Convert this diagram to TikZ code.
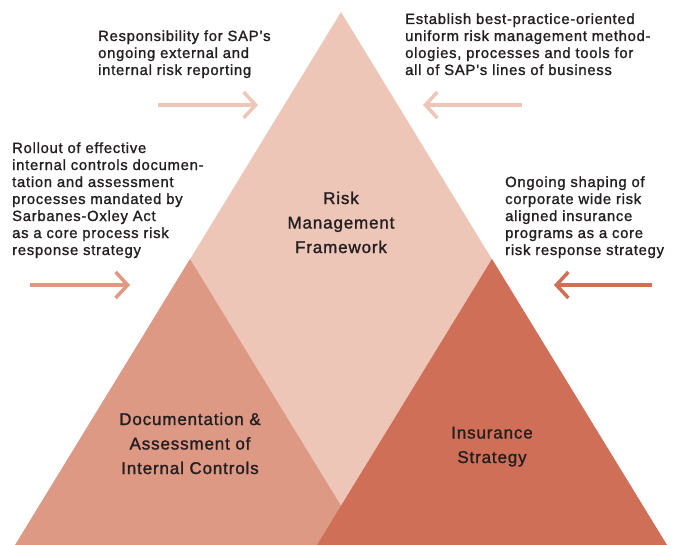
\documentclass[tikz,border=0pt]{standalone}
\usepackage{fontspec}
\setmainfont[LetterSpace=5,FakeBold=1.3]{Liberation Sans}
\usetikzlibrary{arrows.meta,positioning,calc}
\definecolor{rmfpink}{HTML}{EEC6B8}
\definecolor{docrose}{HTML}{DE9985}
\definecolor{insred}{HTML}{CF6F58}
\definecolor{ink}{HTML}{231F20}
\tikzset{
    every picture/.style={line join=miter},
    note/.style={anchor=base west,align=left,inner sep=0pt,
      font=\fontsize{14.8}{17}\selectfont,text=ink},
    tritext/.style={anchor=base,align=center,inner sep=0pt,
      font=\fontsize{17}{24.5}\selectfont,text=ink},
    pointer/.style={-{Straight Barb[length=12pt,width=26pt]},line width=3.5pt}
}

\begin{document}
\begin{tikzpicture}[x=1pt,y=-1pt]
  \useasboundingbox (0,0) rectangle (679,545);
  % corners of the three triangles
  \coordinate (top) at (341,12);
  \coordinate (apexL) at (190,259);
  \coordinate (apexR) at (492,259);
  \fill[rmfpink] (top) -- (666.5,545) -- (15.5,545) -- cycle;
  \fill[docrose] (apexL) -- (365,545) -- (15,545) -- cycle;
  \fill[insred] (apexR) -- (667,545) -- (317,545) -- cycle;

  % labels sit on the baseline of their last line
  \node[tritext] (rmf) at (341,253) {Risk\\Management\\Framework};
  \node[tritext] (doc) at (190,474) {Documentation \&\\Assessment of\\Internal Controls};
  \node[tritext] (ins) at (492,463) {Insurance\\Strategy};

  \node[note] (report) at (98,75) {Responsibility for SAP’s\\ongoing external and\\internal risk reporting};
  \node[note] (method) at (405,75) {Establish best-practice-oriented\\uniform risk management method-\\ologies, processes and tools for\\all of SAP’s lines of business};
  \node[note] (sox) at (12,255) {Rollout of effective\\internal controls documen-\\tation and assessment\\processes mandated by\\Sarbanes-Oxley Act\\as a core process risk\\response strategy};
  \node[note] (insure) at (505,255) {Ongoing shaping of\\corporate wide risk\\aligned insurance\\programs as a core\\risk response strategy};

  % arrows pointing at the triangles
  \coordinate (a1) at (158,105); \coordinate (b1) at (258,105);
  \coordinate (a2) at (522,105); \coordinate (b2) at (423,105);
  \coordinate (a3) at (30,285);  \coordinate (b3) at (130,285);
  \coordinate (a4) at (652,285); \coordinate (b4) at (554,285);
  \draw[pointer,rmfpink] (a1) -- (b1);
  \draw[pointer,rmfpink] (a2) -- (b2);
  \draw[pointer,docrose] (a3) -- (b3);
  \draw[pointer,insred] (a4) -- (b4);
\end{tikzpicture}
\end{document}
